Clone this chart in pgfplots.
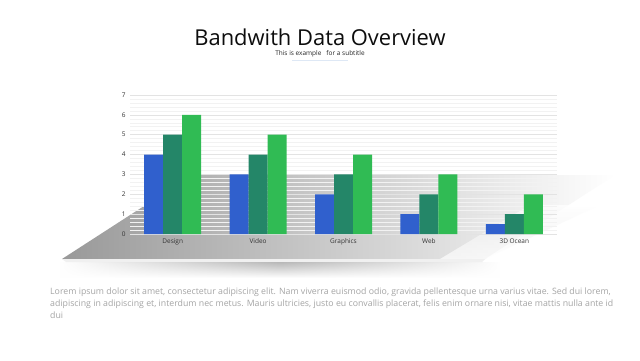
\documentclass[border=0pt]{standalone}
\usepackage{pgfplots}
\pgfplotsset{compat=1.18}
\usepackage{fontspec}
\setmainfont{Open Sans}
\usetikzlibrary{fadings}
\definecolor{cblue}{RGB}{48,96,205}
\definecolor{cteal}{RGB}{36,134,104}
\definecolor{cgreen}{RGB}{48,187,84}
\definecolor{bodygray}{RGB}{165,165,165}
\definecolor{ulblue}{RGB}{222,232,245}
\tikzfading[name=fadelr, left color=transparent!100, right color=transparent!100, middle color=transparent!0]
\begin{document}
\begin{tikzpicture}[x=1bp,y=1bp]
\fill[white, use as bounding box] (0,0) rectangle (640,360);
% platform
\shade[left color=black!40, middle color=black!22, right color=white]
  (62,101) -- (192,185) -- (615,185) -- (485,101) -- cycle;
\shade[top color=white, bottom color=white, middle color=black!4, opacity=0.7]
  (485,101) -- (600,155) -- (530,155) -- (440,101) -- cycle;
% thin lighter edge
\fill[black!6] (62,101) -- (485,101) -- (482,98) -- (66,98) -- cycle;
% shadow
\shade[top color=black!28, bottom color=white, path fading=fadelr]
  (60,98) rectangle (500,82);
% title
\node[font=\fontsize{22}{26}\selectfont, text=black!95] at (320,323) {Bandwith Data Overview};
\node[font=\fontsize{6.5}{8}\selectfont, text=black!85] at (320,306.5) {This is example\ \ \ for a subtitle};
\draw[ulblue, line width=1.2bp] (292,299.5) -- (348,299.5);
% body
\node[anchor=north west, inner sep=0pt, font=\fontsize{8.8}{12}\selectfont, text=bodygray, align=left] at (50,72)
{Lorem ipsum dolor sit amet, consectetur adipiscing elit. Nam viverra euismod odio, gravida pellentesque urna varius vitae. Sed dui lorem,\\
adipiscing in adipiscing et, interdum nec metus. Mauris ultricies, justo eu convallis placerat, felis enim ornare nisi, vitae mattis nulla ante id\\
dui};
\begin{axis}[
  at={(130bp,126bp)}, anchor=south west, scale only axis,
  width=427bp, height=139bp,
  xmin=-0.5, xmax=4.5, ymin=0, ymax=7,
  ybar=0pt, bar width=19bp,
  axis line style={draw=none},
  major tick length=0pt, minor tick length=0pt,
  ytick={0,...,7},
  xtick={0,1,2,3,4},
  xticklabels={Design,Video,Graphics,Web,3D Ocean},
  ymajorgrids, yminorgrids, minor y tick num=4,
  major grid style={draw=black!11, line width=0.6bp},
  minor grid style={draw=black!5, line width=0.6bp},
  /pgf/number format/assume math mode=true,
  tick label style={font=\fontsize{6.5}{8}\selectfont, text=black!80},
  x tick label style={yshift=-1bp},
  y tick label style={xshift=-1bp},
]
\addplot[fill=cblue, draw=none] coordinates {(0,4) (1,3) (2,2) (3,1) (4,0.5)};
\addplot[fill=cteal, draw=none] coordinates {(0,5) (1,4) (2,3) (3,2) (4,1)};
\addplot[fill=cgreen, draw=none] coordinates {(0,6) (1,5) (2,4) (3,3) (4,2)};
\end{axis}
\end{tikzpicture}
\end{document}
